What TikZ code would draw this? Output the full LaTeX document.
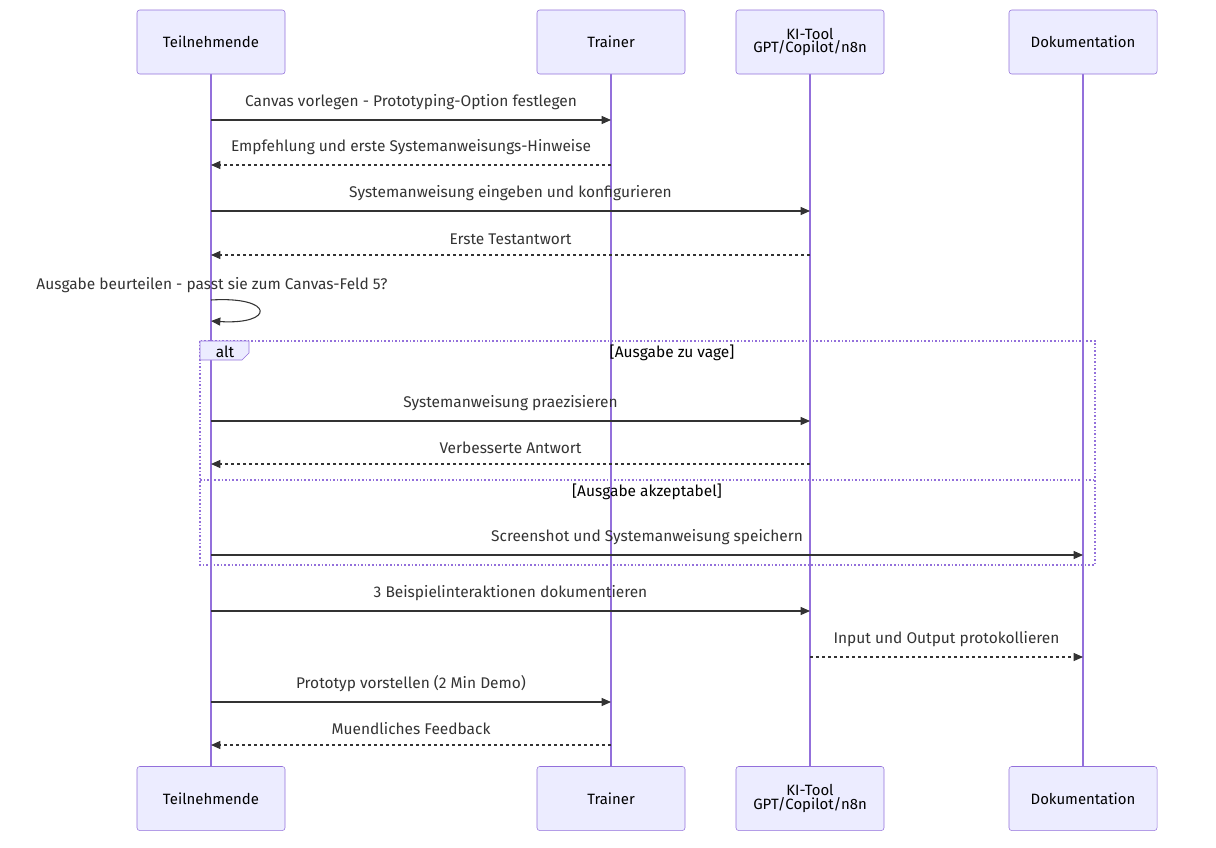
\documentclass[tikz,border=0pt]{standalone}
\usepackage{fontspec}
\setmainfont{Fira Sans}
\usetikzlibrary{arrows.meta}
\definecolor{boxfill}{HTML}{ECECFF}
\definecolor{boxline}{HTML}{9370DB}
\definecolor{msg}{HTML}{333333}
\begin{document}
\begin{tikzpicture}[x=0.75pt,y=-0.75pt,font=\fontsize{11.6}{13}\selectfont,
 actor/.style={draw=boxline,fill=boxfill,rounded corners=2pt,minimum width=111pt,minimum height=48pt,align=center,inner sep=0pt,font=\fontsize{11.2}{10}\selectfont},
 life/.style={draw=boxline,line width=1.3pt},
 m/.style={draw=msg,line width=0.8pt,-{Triangle[length=7pt,width=6pt]}},
 r/.style={m,dashed,dash pattern=on 2.5pt off 2pt},
 lbl/.style={text=msg,anchor=south,inner sep=0pt}]
\useasboundingbox (0,0) rectangle (1216,847);
\foreach \n/\x/\t in {a/211/Teilnehmende,b/611/Trainer,c/810/{KI-Tool\\GPT/Copilot/n8n},d/1083/Dokumentation}{
 \draw[life] (\x,74) -- (\x,767);
 \node[actor] (\n t) at (\x,42) {\t};
 \node[actor] (\n b) at (\x,798.5) {\t};
}
\foreach \y in {120,165,211,255,300,321,421,464,555,611,657,702,745}{
 \coordinate (a\y) at (211,\y); \coordinate (b\y) at (611,\y);
 \coordinate (c\y) at (810,\y); \coordinate (d\y) at (1083,\y);}
\draw[m] (a120) -- node[lbl,above=7pt] {Canvas vorlegen - Prototyping-Option festlegen} (b120);
\draw[r] (b165) -- node[lbl,above=7pt] {Empfehlung und erste Systemanweisungs-Hinweise} (a165);
\draw[m] (a211) -- node[lbl,above=7pt] {Systemanweisung eingeben und konfigurieren} (c211);
\draw[r] (c255) -- node[lbl,above=7pt] {Erste Testantwort} (a255);
\node[lbl] at (212,293) {Ausgabe beurteilen - passt sie zum Canvas-Feld 5?};
\draw[m] (a300) .. controls (275,296) and (275,325) .. (a321);
% alt box
\draw[boxline,line width=1.2pt,dash pattern=on 1.2pt off 1.5pt] (200,341) rectangle (1095,565);
\draw[boxline,line width=1.2pt,dash pattern=on 1.2pt off 1.5pt] (200,480) -- (1095,480);
\fill[boxfill] (200,341) -- (249,341) -- (249,353) -- (242,360) -- (200,360) -- cycle;
\draw[boxline] (200,341) -- (249,341) -- (249,353) -- (242,360) -- (200,360) -- cycle;
\node[text=black] at (225,352) {alt};
\node[text=black] at (672,353) {[Ausgabe zu vage]};
\node[text=black] at (647,492) {[Ausgabe akzeptabel]};
\draw[m] (a421) -- node[lbl,above=7pt] {Systemanweisung praezisieren} (c421);
\draw[r] (c464) -- node[lbl,above=7pt] {Verbesserte Antwort} (a464);
\draw[m] (a555) -- node[lbl,above=7pt] {Screenshot und Systemanweisung speichern} (d555);
\draw[m] (a611) -- node[lbl,above=7pt] {3 Beispielinteraktionen dokumentieren} (c611);
\draw[r] (c657) -- node[lbl,above=7pt] {Input und Output protokollieren} (d657);
\draw[m] (a702) -- node[lbl,above=7pt] {Prototyp vorstellen (2 Min Demo)} (b702);
\draw[r] (b745) -- node[lbl,above=7pt] {Muendliches Feedback} (a745);
\end{tikzpicture}
\end{document}
